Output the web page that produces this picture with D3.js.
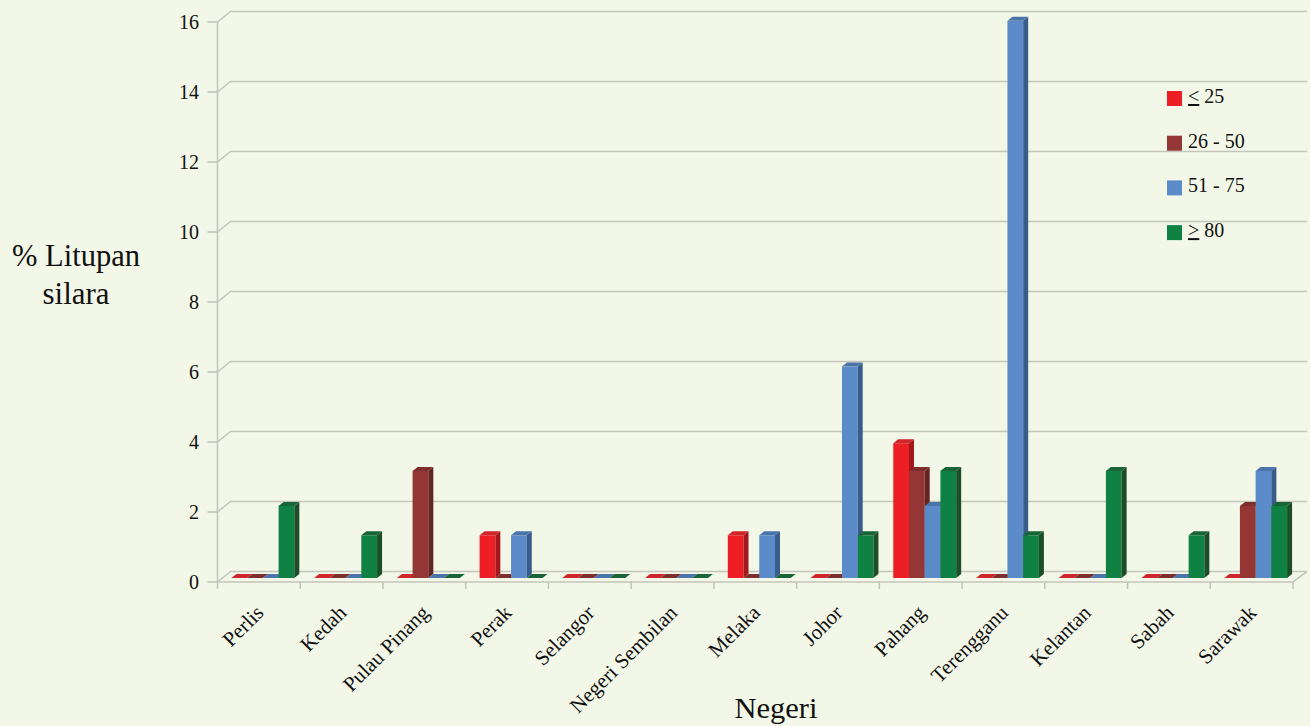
<!DOCTYPE html>
<html>
<head>
<meta charset="utf-8">
<script src="https://cdn.jsdelivr.net/npm/d3@7"></script>
<style>
  html, body { margin: 0; padding: 0; background: #f3f7e7; }
  svg { display: block; }
</style>
</head>
<body>
<svg id="chart" width="1310" height="726"></svg>
<script>
// Negeri (states) along the x axis
const categories = ["Perlis", "Kedah", "Pulau Pinang", "Perak", "Selangor", "Negeri Sembilan",
  "Melaka", "Johor", "Pahang", "Terengganu", "Kelantan", "Sabah", "Sarawak"];

// Canopy-cover classes (legend)
const seriesNames = ["<= 25", "26 - 50", "51 - 75", ">= 80"];

// % Litupan silara per state, one array per class
const le25   = [0, 0, 0, 1.22, 0, 0, 1.22, 0, 3.85, 0, 0, 0, 0];
const r26_50 = [0, 0, 3.06, 0, 0, 0, 0, 0, 3.06, 0, 0, 0, 2.06];
const r51_75 = [0, 0, 0, 1.22, 0, 0, 1.22, 6.04, 2.06, 15.92, 0, 0, 3.06];
const ge80   = [2.06, 1.22, 0, 0, 0, 0, 0, 1.22, 3.06, 1.22, 3.06, 1.22, 2.06];

const yTicks = [0, 2, 4, 6, 8, 10, 12, 14, 16];

const series = [le25, r26_50, r51_75, ge80];
const palette = [
  { front: "#ed1f24", side: "#a3181c", top: "#d0252a" },
  { front: "#933634", side: "#652423", top: "#7e2e2d" },
  { front: "#5b8cc9", side: "#385d8c", top: "#4a74aa" },
  { front: "#0f8142", side: "#1c4f27", top: "#1a6538" }
];

const FONT = "'Liberation Serif', 'Times New Roman', Times, 'DejaVu Serif', serif";

const svg = d3.select("#chart")
  .attr("font-family", FONT);

// plot frame (front plane) and 3D depth offsets
const x0 = 217.5, x1 = 1293;
const yBottom = 582, yTop = 22;
const depth = { dx: 13, dy: -10.5 };      // wall depth
const barDepth = { dx: 5, dy: -4 };       // bar depth
const barLift = { dx: 4, dy: -4 };        // bars stand midway into the floor

const x = d3.scaleBand().domain(categories).range([x0, x1]).paddingInner(0).paddingOuter(0);
const y = d3.scaleLinear().domain([0, 16]).range([yBottom, yTop]);
const xs = d3.scaleBand().domain(d3.range(series.length))
  .range([0, x.bandwidth()]).paddingOuter(0.63).paddingInner(0);

const gridColor = "#c4c5bb";

// gridlines: diagonal from the front axis to the back wall, then along the back wall
const grid = svg.append("g");
yTicks.forEach(t => {
  const yy = y(t);
  grid.append("path")
    .attr("d", `M${x0},${yy} L${x0 + depth.dx},${yy + depth.dy} L${x1 + depth.dx + 1},${yy + depth.dy}`)
    .attr("fill", "none").attr("stroke", gridColor).attr("stroke-width", 1.6);
  grid.append("line")
    .attr("x1", x0 - 10).attr("x2", x0).attr("y1", yy).attr("y2", yy)
    .attr("stroke", gridColor).attr("stroke-width", 1.6);
});

// front y axis line
svg.append("line")
  .attr("x1", x0).attr("x2", x0).attr("y1", y(16)).attr("y2", yBottom)
  .attr("stroke", gridColor).attr("stroke-width", 1.6);

// front floor edge with the right-hand depth return
svg.append("path")
  .attr("d", `M${x0},${yBottom} L${x1},${yBottom} L${x1 + depth.dx + 1},${yBottom + depth.dy}`)
  .attr("fill", "none").attr("stroke", gridColor).attr("stroke-width", 1.6);

// category tick marks
categories.concat([null]).forEach((c, i) => {
  const xx = c === null ? x1 : x(c);
  svg.append("line")
    .attr("x1", xx).attr("x2", xx).attr("y1", yBottom).attr("y2", yBottom + 7)
    .attr("stroke", gridColor).attr("stroke-width", 1.6);
});

// y tick labels
svg.append("g").selectAll("text").data(yTicks).join("text")
  .attr("x", 199).attr("y", d => y(d) + 7)
  .attr("text-anchor", "end").attr("font-size", 20).attr("fill", "#111")
  .text(d => d);

// bars
const bars = svg.append("g");
categories.forEach((c, ci) => {
  series.forEach((arr, si) => {
    const v = arr[ci];
    const col = palette[si];
    const bx = x(c) + xs(si) + barLift.dx;
    const bw = xs.bandwidth();
    const by0 = y(0) + barLift.dy;
    const by1 = y(v) + barLift.dy;
    const g = bars.append("g");
    if (v > 0) {
      // front face
      g.append("rect").attr("x", bx).attr("y", by1).attr("width", bw).attr("height", by0 - by1)
        .attr("fill", col.front);
      // side face
      g.append("path")
        .attr("d", `M${bx + bw},${by1} L${bx + bw + barDepth.dx},${by1 + barDepth.dy} L${bx + bw + barDepth.dx},${by0 + barDepth.dy} L${bx + bw},${by0} Z`)
        .attr("fill", col.side);
    }
    // top face
    g.append("path")
      .attr("d", `M${bx},${by1} L${bx + barDepth.dx},${by1 + barDepth.dy} L${bx + bw + barDepth.dx},${by1 + barDepth.dy} L${bx + bw},${by1} Z`)
      .attr("fill", col.top);
  });
});

// category labels, rotated
svg.append("g").selectAll("text").data(categories).join("text")
  .attr("transform", d => `translate(${x(d) + x.bandwidth() / 2 + 6},${614}) rotate(-45)`)
  .attr("text-anchor", "end").attr("font-size", 21).attr("fill", "#111")
  .text(d => d);

// axis titles
const yTitle = svg.append("text").attr("text-anchor", "middle").attr("font-size", 31).attr("fill", "#111");
yTitle.append("tspan").attr("x", 76).attr("y", 266)
  .attr("textLength", 128).attr("lengthAdjust", "spacingAndGlyphs").text("% Litupan");
yTitle.append("tspan").attr("x", 76).attr("y", 304)
  .attr("textLength", 67).attr("lengthAdjust", "spacingAndGlyphs").text("silara");

svg.append("text").attr("x", 776).attr("y", 718).attr("text-anchor", "middle")
  .attr("font-size", 30).attr("fill", "#111")
  .attr("textLength", 83).attr("lengthAdjust", "spacingAndGlyphs")
  .text("Negeri");

// legend
const legend = svg.append("g").attr("transform", "translate(1167,91)");
seriesNames.forEach((name, i) => {
  const g = legend.append("g").attr("transform", `translate(0,${i * 44.7})`);
  g.append("rect").attr("width", 15).attr("height", 15).attr("fill", palette[i].front);
  const t = g.append("text").attr("x", 21).attr("y", 12).attr("font-size", 20).attr("fill", "#111");
  if (name.startsWith("<=") || name.startsWith(">=")) {
    t.append("tspan").attr("text-decoration", "underline").text(name[0]);
    t.append("tspan").text(" " + name.slice(3));
  } else {
    t.text(name);
  }
});
</script>
</body>
</html>
